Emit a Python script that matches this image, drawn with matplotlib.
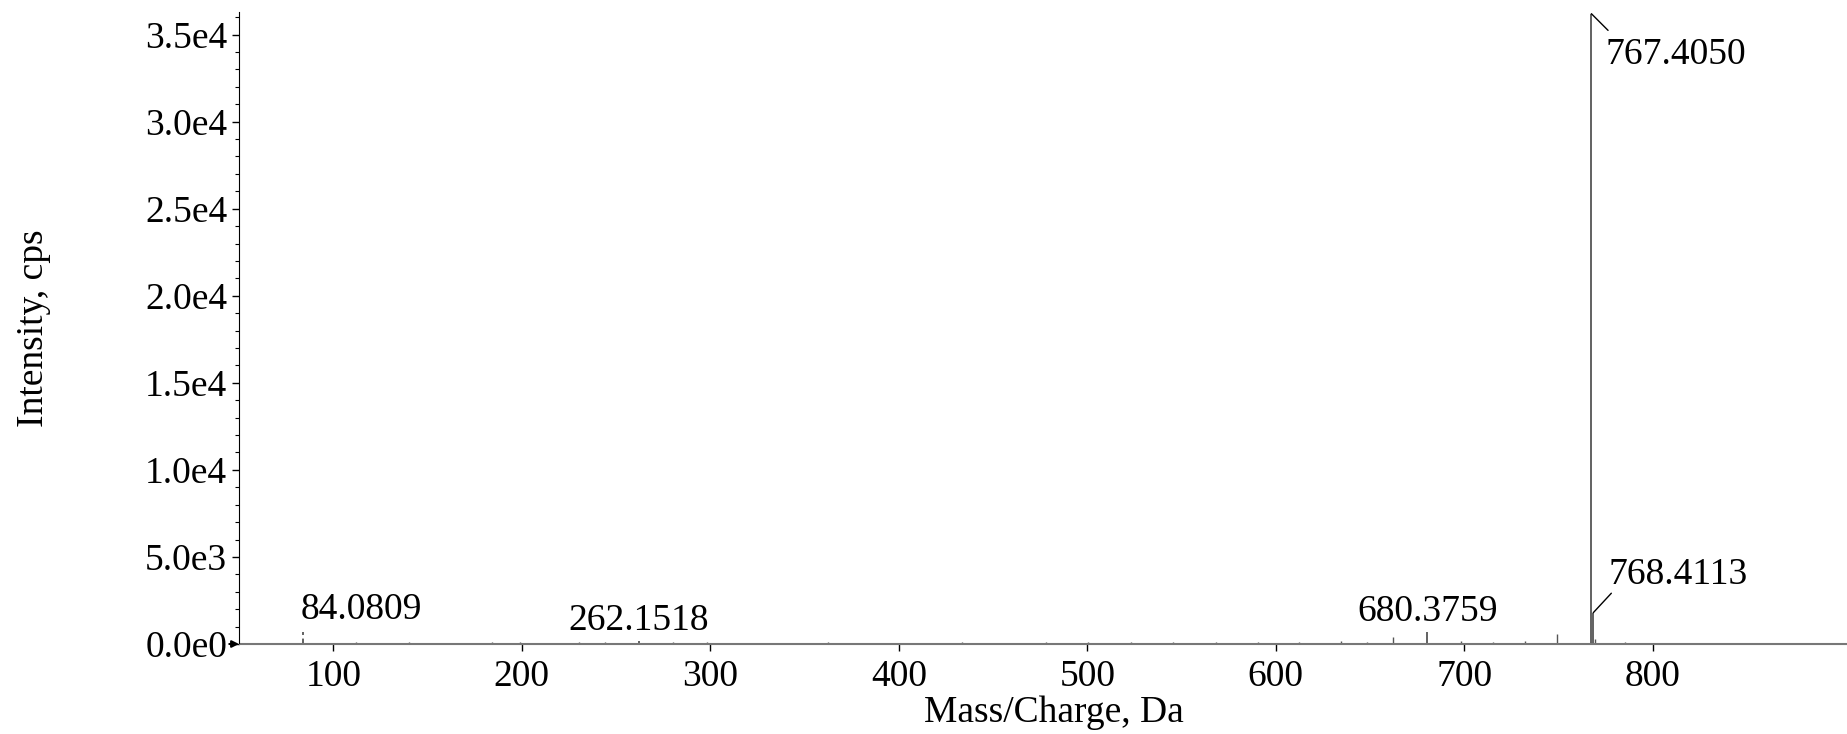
import matplotlib
matplotlib.use("Agg")
import matplotlib.pyplot as plt
from matplotlib.ticker import FixedLocator, MultipleLocator

# labelled peaks (m/z, intensity in cps)
label_mz = [84.0809, 262.1518, 680.3759, 767.4050, 768.4113]
label_int = [690, 150, 690, 36200, 1800]
label_text = ["84.0809", "262.1518", "680.3759", "767.4050", "768.4113"]

# other small peaks / baseline noise
noise_mz = [58.1, 70.1, 98.0, 112.1, 126.1, 140.1, 155.0, 170.1, 184.1, 199.1,
            215.1, 230.1, 244.1, 280.2, 298.2, 316.2, 340.2, 362.2, 386.2, 410.2,
            433.3, 455.3, 478.3, 500.3, 523.3, 545.3, 568.3, 590.4, 612.4, 634.4,
            648.4, 662.4, 698.4, 715.4, 732.4, 749.4, 769.4, 785.4, 810.4, 840.5,
            870.5, 895.5]
noise_int = [60, 80, 70, 90, 60, 110, 80, 70, 100, 90,
             80, 110, 120, 90, 100, 80, 70, 90, 80, 70,
             90, 80, 100, 90, 110, 90, 120, 100, 110, 150,
             130, 400, 160, 140, 170, 575, 300, 90, 70, 60,
             50, 50]

yticks = [0, 5000, 10000, 15000, 20000, 25000, 30000, 35000]
ytick_labels = ["0.0e0", "5.0e3", "1.0e4", "1.5e4", "2.0e4", "2.5e4", "3.0e4", "3.5e4"]
xticks = [100, 200, 300, 400, 500, 600, 700, 800]

# label offsets in points (dx, dy) and whether a leader line is drawn
label_offsets = [(-2, 9), (0, 8), (0, 8), (10, -36), (11, 21)]
label_ha = ["left", "center", "center", "left", "left"]
leader = [None, None, None, (12, -12), (13, 14)]
peak_styles = [(0, (3, 2)), "solid", "solid", "solid", "solid"]

plt.rcParams['font.family'] = ['Liberation Serif', 'DejaVu Serif']

fig = plt.figure(figsize=(18.47, 7.34), dpi=100)
ax = fig.add_axes([0.1294, 0.1226, 0.8706, 0.8611])

ax.vlines(noise_mz, 0, noise_int, color="#555555", lw=1.0)
ax.vlines(label_mz, 0, label_int, color="#555555", lw=1.3, linestyles=peak_styles)
ax.axhline(0, color="#777777", lw=1.5)

for mz, h, t, off, ha, ld in zip(label_mz, label_int, label_text, label_offsets, label_ha, leader):
    ax.annotate(t, xy=(mz, h), xytext=off, textcoords="offset points",
                ha=ha, va="baseline", fontsize=27)
    if ld is not None:
        ax.annotate("", xy=(mz, h), xytext=ld, textcoords="offset points",
                    arrowprops=dict(arrowstyle="-", color="black", lw=1.0,
                                    shrinkA=0, shrinkB=0))

ax.set_xlim(50, 903)
ax.set_ylim(0, 36300)

ax.yaxis.set_major_locator(FixedLocator(yticks))
ax.set_yticklabels(ytick_labels)
ax.yaxis.set_minor_locator(MultipleLocator(1000))
ax.xaxis.set_major_locator(FixedLocator(xticks))

ax.tick_params(axis="both", which="major", labelsize=27, direction="out", length=5, width=1)
ax.tick_params(axis="y", which="minor", direction="out", length=3, width=0.8)
ax.tick_params(axis="x", pad=6)

for s in ["top", "right"]:
    ax.spines[s].set_visible(False)
ax.spines["bottom"].set_color("#777777")
ax.spines["left"].set_color("black")

# small arrow marking zero level
ax.annotate("", xy=(0, 0), xycoords=("axes fraction", "data"), xytext=(-7, 0),
            textcoords="offset points",
            arrowprops=dict(arrowstyle="-|>", color="black", lw=1.5,
                            mutation_scale=10, shrinkA=0, shrinkB=0),
            annotation_clip=False)

ax.set_xlabel("Mass/Charge, Da", fontsize=27, labelpad=2)
ax.xaxis.set_label_coords(0.507, -0.081)
ax.set_ylabel("Intensity, cps", fontsize=27)
ax.yaxis.set_label_coords(-0.117, 0.5)

fig.savefig("out.png", dpi=100)
